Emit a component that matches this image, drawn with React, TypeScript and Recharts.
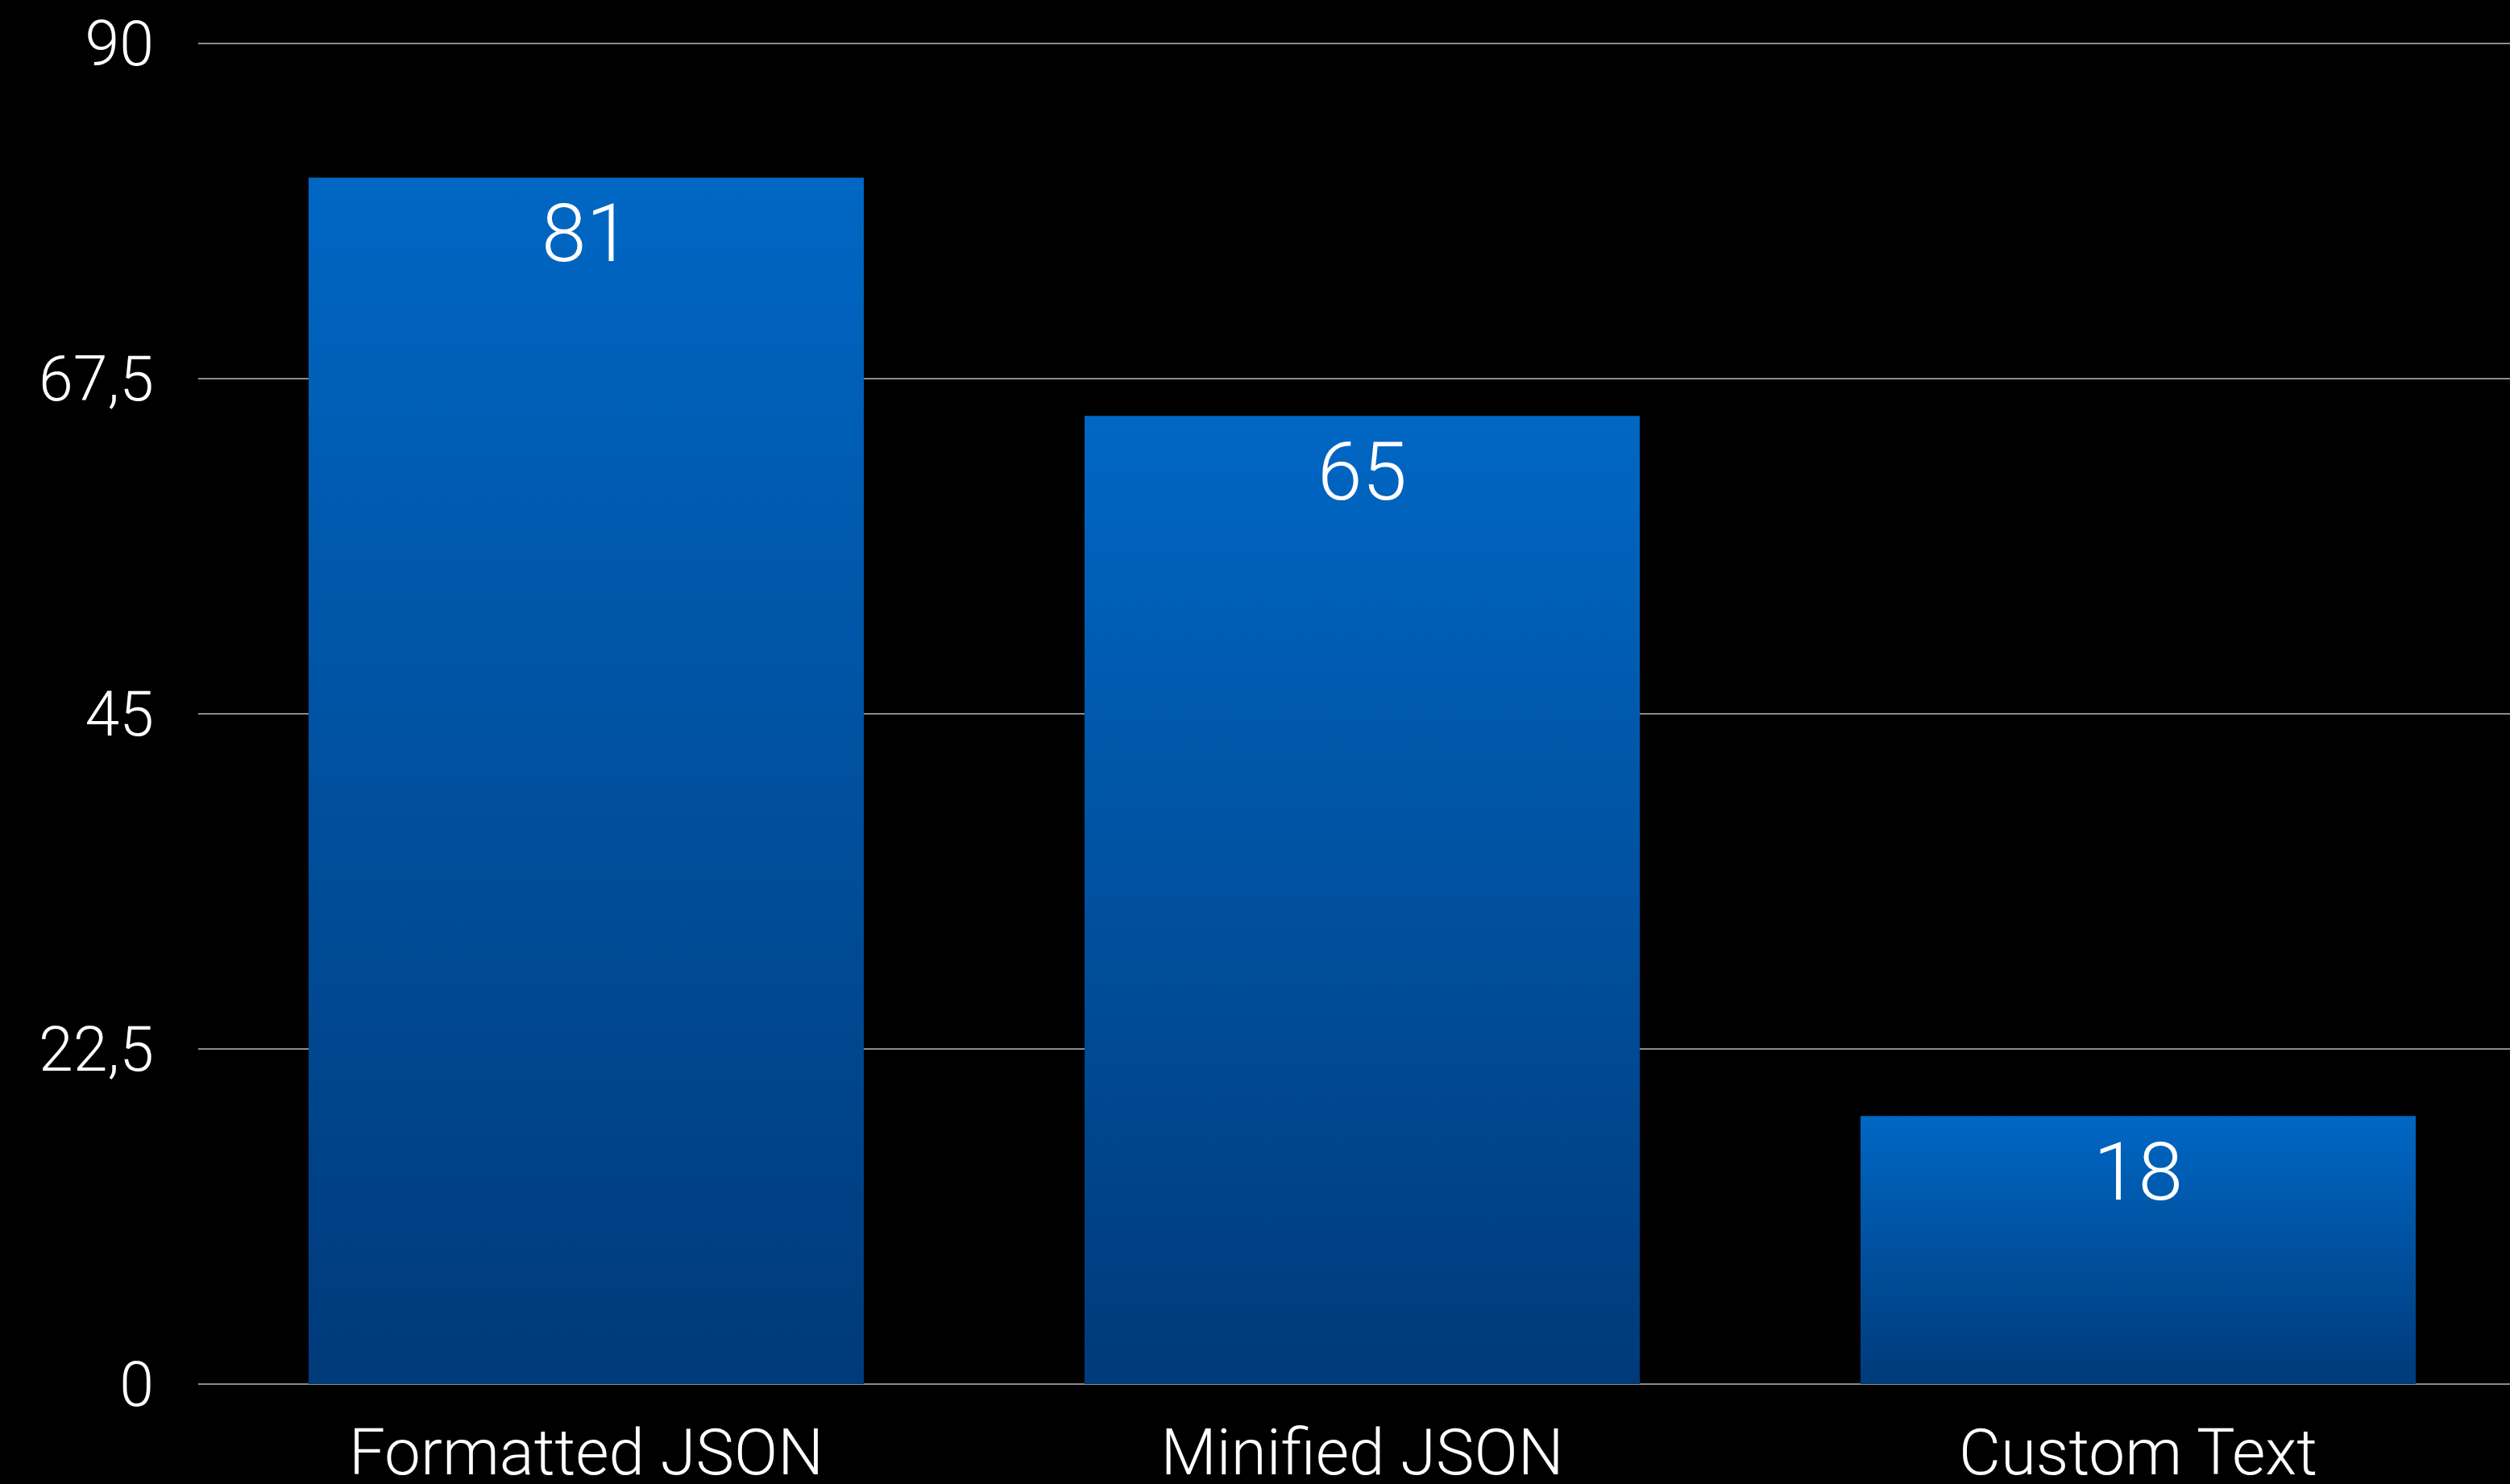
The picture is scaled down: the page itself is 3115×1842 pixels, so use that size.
import { BarChart, Bar, XAxis, YAxis, CartesianGrid, LabelList } from "recharts";

const categories = ["Formatted JSON", "Minified JSON", "Custom Text"];
const sizes = [81, 65, 18];
const yTicks = [0, 22.5, 45, 67.5, 90];

const data = categories.map((name, i) => ({ name, value: sizes[i] }));

const FONT = "Roboto, 'Liberation Sans', Arial, sans-serif";

export default function App() {
  return (
    <div
      style={{
        position: "fixed",
        left: 0,
        top: 0,
        width: 3115,
        height: 1842,
        overflow: "hidden",
        background: "#000",
      }}
    >
      <BarChart
        width={3135}
        height={1842}
        data={data}
        margin={{ top: 54, right: 0, left: 0, bottom: 0 }}
      >
        <defs>
          <linearGradient id="barGrad" x1="0" y1="0" x2="0" y2="1">
            <stop offset="0%" stopColor="#0067c4" />
            <stop offset="100%" stopColor="#003a7a" />
          </linearGradient>
        </defs>
        <CartesianGrid vertical={false} stroke="#8c8c8c" strokeWidth={2} />
        <XAxis
          dataKey="name"
          height={124}
          axisLine={false}
          tickLine={false}
          tickSize={0}
          tickMargin={55}
          interval={0}
          tick={{ fill: "#fff", fontSize: 80, fontFamily: FONT, fontWeight: 300 }}
        />
        <YAxis
          width={246}
          domain={[0, 90]}
          ticks={yTicks}
          axisLine={false}
          tickLine={false}
          tickSize={0}
          tickMargin={55}
          tickFormatter={(v: number) => String(v).replace(".", ",")}
          tick={{ fill: "#fff", fontSize: 77, fontFamily: FONT, fontWeight: 300 }}
        />
        <Bar dataKey="value" fill="url(#barGrad)" barSize={689} isAnimationActive={false}>
          <LabelList
            dataKey="value"
            position="insideTop"
            offset={33}
            fill="#fff"
            fontSize={100}
            fontFamily={FONT}
            fontWeight={300}
          />
        </Bar>
      </BarChart>
    </div>
  );
}
